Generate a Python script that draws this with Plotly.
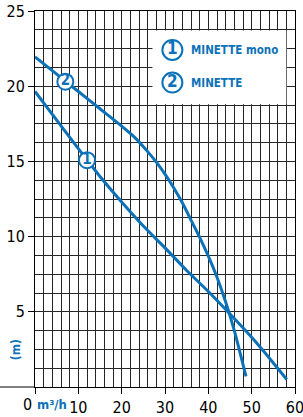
import plotly.graph_objects as go

# Curve data (flow m3/h, head m)
q_mono = [0, 5, 10, 15, 20, 25, 30, 35, 40, 45, 50, 55, 58.1]
h_mono = [19.65, 17.75, 15.85, 14.0, 12.3, 10.7, 9.25, 7.75, 6.35, 4.85, 3.3, 1.6, 0.5]

q_std = [0, 5, 10, 15, 20, 23, 26, 28, 30, 32, 34, 36, 38, 40, 42, 44, 46, 48.7]
h_std = [21.95, 20.8, 19.65, 18.5, 17.35, 16.6, 15.65, 14.95, 14.15, 13.25, 12.25, 11.1,
         9.95, 8.7, 7.3, 5.65, 3.75, 0.7]

curve_labels = ["1", "2"]
label_q = [12.0, 7.0]
label_h = [15.08, 20.3]

legend_names = ["MINETTE mono", "MINETTE"]
legend_q = [31.7, 31.7]
legend_h = [22.41, 20.24]

x_ticks = [0, 10, 20, 30, 40, 50, 60]
x_ticktext = ["", "10", "20", "30", "40", "50", "60"]
y_ticks = [5, 10, 15, 20, 25]

BLUE = "#0b72b9"
GRID = "#262626"
TICKFONT = "Liberation Sans Narrow, DejaVu Sans Condensed, Arial Narrow, sans-serif"
BOLDFONT = "Liberation Sans Narrow, DejaVu Sans Condensed, Arial Narrow, sans-serif"

fig = go.Figure()

fig.add_trace(go.Scatter(x=q_mono, y=h_mono, mode="lines",
                         line=dict(color=BLUE, width=3, shape="spline", smoothing=0.6),
                         hoverinfo="skip", showlegend=False))
fig.add_trace(go.Scatter(x=q_std, y=h_std, mode="lines",
                         line=dict(color=BLUE, width=3, shape="spline", smoothing=0.6),
                         hoverinfo="skip", showlegend=False))

fig.add_trace(go.Scatter(x=label_q, y=label_h, mode="markers+text", text=curve_labels,
                         textposition="middle center",
                         textfont=dict(family=BOLDFONT, size=15, color=BLUE, weight="bold"),
                         marker=dict(symbol="circle", size=16, color="white",
                                     line=dict(color=BLUE, width=2)),
                         hoverinfo="skip", showlegend=False, cliponaxis=False))

fig.add_trace(go.Scatter(x=legend_q, y=legend_h, mode="markers+text", text=curve_labels,
                         textposition="middle center",
                         textfont=dict(family=BOLDFONT, size=17, color=BLUE, weight="bold"),
                         marker=dict(symbol="circle", size=20, color="white",
                                     line=dict(color=BLUE, width=2)),
                         hoverinfo="skip", showlegend=False, cliponaxis=False))

shapes = [
    dict(type="rect", xref="x", yref="y", x0=27.1, x1=58, y0=18.8, y1=23.7,
         fillcolor="white", line=dict(width=0), layer="between"),
    dict(type="line", xref="paper", yref="paper", x0=-35 / 260, x1=0, y0=0, y1=0,
         line=dict(color="black", width=1)),
]

annotations = [
    dict(text="0", xref="paper", yref="paper", x=-8 / 260, y=-17.7 / 376,
         showarrow=False, font=dict(family=TICKFONT, size=16, color="black"),
         xanchor="center", yanchor="middle"),
    dict(text="<b>m³/h</b>", xref="paper", yref="paper", x=17 / 260, y=-17.7 / 376,
         showarrow=False, font=dict(family=BOLDFONT, size=13, color=BLUE),
         xanchor="center", yanchor="middle"),
    dict(text="<b>(m)</b>", xref="paper", yref="paper", x=-19.5 / 260, y=37.3 / 376,
         showarrow=False, textangle=-90, font=dict(family=BOLDFONT, size=12, color=BLUE),
         xanchor="center", yanchor="middle"),
]
for name, yy in zip(legend_names, legend_h):
    annotations.append(dict(text="<b>" + name + "</b>", xref="x", yref="y", x=35.6, y=yy,
                            showarrow=False, xanchor="left", yanchor="middle",
                            font=dict(family=BOLDFONT, size=11.5, color=BLUE)))

fig.update_layout(
    width=303, height=417,
    margin=dict(l=35, r=8, t=11, b=30, autoexpand=False),
    paper_bgcolor="white", plot_bgcolor="white",
    shapes=shapes, annotations=annotations,
    xaxis=dict(range=[0, 60], tickvals=x_ticks, ticktext=x_ticktext, automargin=False,
               ticklabeloverflow="allow",
               ticks="outside", ticklen=6, tickcolor="black", tickwidth=1,
               showgrid=True, gridcolor=GRID, gridwidth=1,
               minor=dict(dtick=2, tick0=0, showgrid=True, gridcolor=GRID, gridwidth=1, ticks=""),
               showline=True, linecolor="black", linewidth=1, mirror=True, zeroline=False,
               tickfont=dict(family=TICKFONT, size=16, color="black"), fixedrange=True),
    yaxis=dict(range=[0, 25], tickvals=y_ticks, automargin=False,
               ticklabeloverflow="allow",
               ticks="outside", ticklen=6, tickcolor="black", tickwidth=1,
               showgrid=True, gridcolor=GRID, gridwidth=1,
               minor=dict(dtick=1.25, tick0=0, showgrid=True, gridcolor=GRID, gridwidth=1, ticks=""),
               showline=True, linecolor="black", linewidth=1, mirror=True, zeroline=False,
               tickfont=dict(family=TICKFONT, size=16, color="black"), fixedrange=True),
)

fig.write_html("out.html", config={"displayModeBar": False},
               post_script="document.body.style.margin='0';document.body.style.overflow='hidden';")
